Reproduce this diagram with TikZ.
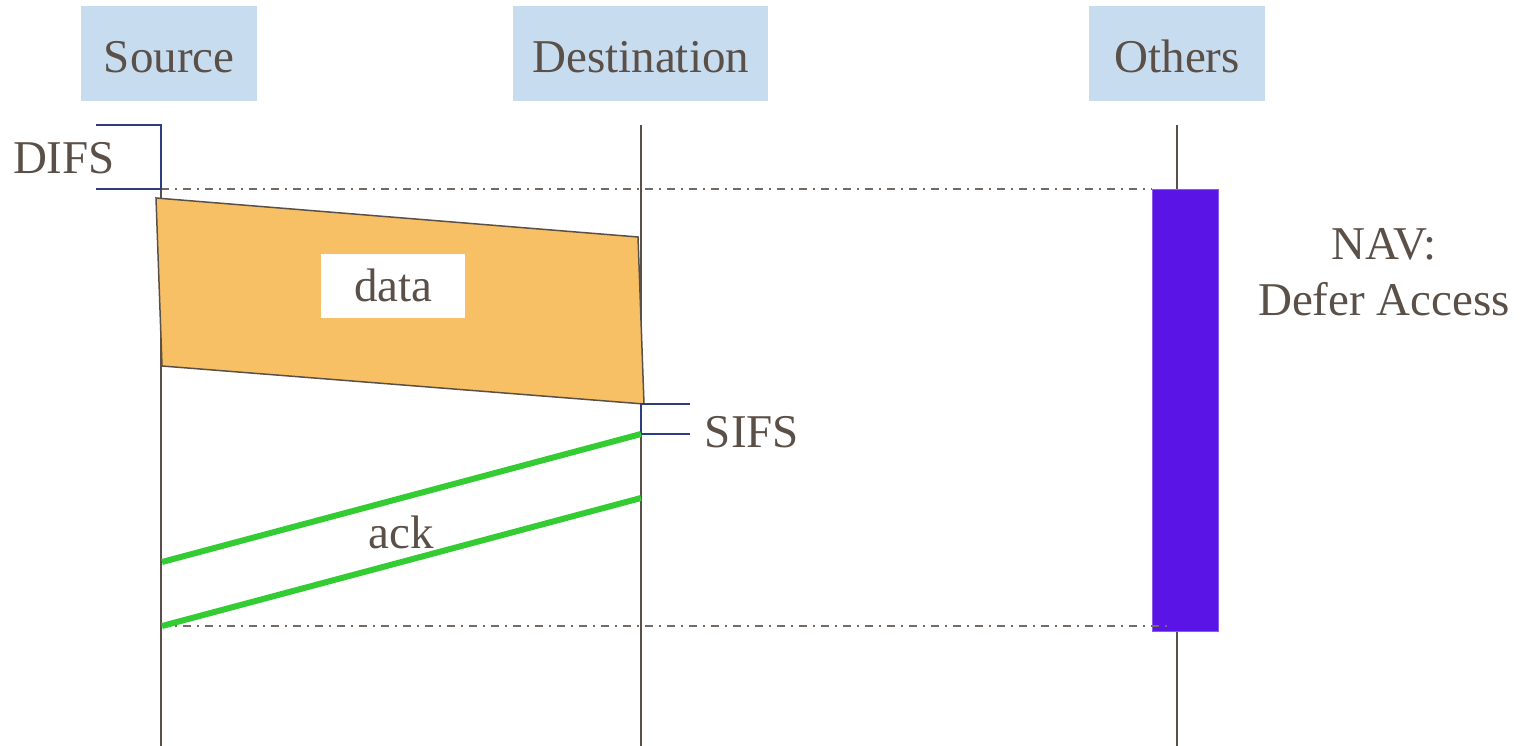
\documentclass[tikz,border=0pt]{standalone}
\usepackage{fontspec}
\setmainfont{Liberation Serif}
\newfontfamily\labelfont{Liberation Serif}
\definecolor{txt}{HTML}{5A5048}
\definecolor{headfill}{HTML}{C8DCF0}
\definecolor{bracket}{HTML}{2E3C82}
\definecolor{datafill}{HTML}{F8C064}
\definecolor{navfill}{HTML}{5A14E6}
\definecolor{ackgreen}{HTML}{33CC33}
\begin{document}
\begin{tikzpicture}[x=1pt,y=-1pt,
  lbl/.style={font=\labelfont\fontsize{47}{56}\selectfont, text=txt, inner sep=0pt},
  head/.style={fill=headfill, minimum height=95pt, inner sep=0pt, anchor=north west},
  lifeline/.style={draw=txt, line width=2pt},
  bracketline/.style={draw=bracket, line width=1.6pt},
  dashdot/.style={draw=txt!85, line width=1.5pt, dash pattern=on 8pt off 6pt on 2pt off 6pt},
  ackline/.style={draw=ackgreen, line width=6pt}]
\useasboundingbox (0,0) rectangle (1525,746);

% station headers
\node[head, minimum width=176pt] (src) at (81,6) {};
\node[head, minimum width=255pt] (dst) at (513,6) {};
\node[head, minimum width=176pt] (oth) at (1089,6) {};
\node[lbl] (srcName) at ([yshift=-3pt]src.center) {Source};
\node[lbl] (dstName) at ([yshift=-3pt]dst.center) {Destination};
\node[lbl] (othName) at ([yshift=-3pt]oth.center) {Others};

% lifelines
\coordinate (srcT) at (161,125); \coordinate (srcB) at (161,746);
\coordinate (dstT) at (641,125); \coordinate (dstB) at (641,746);
\coordinate (othT) at (1177,125); \coordinate (othB) at (1177,746);
\draw[lifeline] (srcT) -- (srcB);
\draw[lifeline] (dstT) -- (dstB);
\draw[lifeline] (othT) -- (othB);

% NAV bar and its time bounds
\node[fill=navfill, draw=navfill!70!white, line width=1pt, minimum width=66pt, minimum height=442pt,
      inner sep=0pt, anchor=north west] (nav) at (1152,189) {};
\coordinate (difsEnd) at (161,189);
\coordinate (ackEnd) at (161,626);
\draw[dashdot] (difsEnd) -- (nav.north west);
\draw[dashdot] (ackEnd) -- (1172,626);

% DIFS bracket
\coordinate (d1) at (96,125); \coordinate (d2) at (96,189);
\draw[bracketline] (d1) -- (srcT) -- (difsEnd) -- (d2);
\node[lbl] (difs) at (64,158) {DIFS};

% data frame
\coordinate (p1) at (156,198); \coordinate (p2) at (638,237);
\coordinate (p3) at (644,404); \coordinate (p4) at (162,366);
\draw[fill=datafill, draw=txt, line width=1.5pt] (p1) -- (p2) -- (p3) -- (p4) -- cycle;
\node[fill=white, minimum width=144pt, minimum height=64pt, anchor=north west, inner sep=0pt] (dbox) at (321,254) {};
\node[lbl] (data) at ([yshift=1pt]dbox.center) {data};

% SIFS bracket
\coordinate (s0) at (641,404); \coordinate (s1) at (690,404);
\coordinate (s2) at (641,434); \coordinate (s3) at (690,434);
\draw[bracketline] (s1) -- (s0) -- (s2) -- (s3);
\node[lbl] (sifs) at (752,432) {SIFS};

% ack frame
\coordinate (a1) at (162,562); \coordinate (a2) at (641,434);
\coordinate (a3) at (162,626); \coordinate (a4) at (641,498);
\draw[ackline] (a1) -- (a2);
\draw[ackline] (a3) -- (a4);
\node[lbl] (ack) at (401,532) {ack};

% NAV caption
\node[lbl, align=center] (navtxt) at (1384,272) {NAV:\\Defer Access};
\end{tikzpicture}
\end{document}
